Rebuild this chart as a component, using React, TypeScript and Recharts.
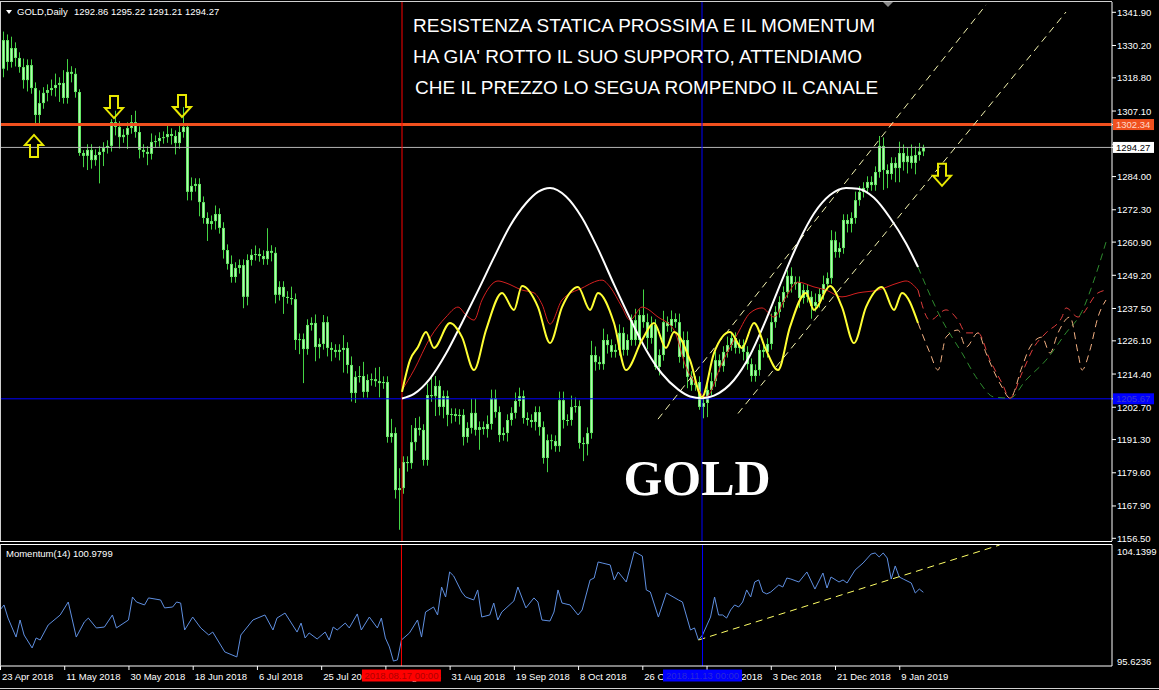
import React from 'react';
import { ComposedChart, Bar, Line, XAxis, YAxis, ReferenceLine, ReferenceDot } from 'recharts';

const FONT = '"Liberation Sans", Arial, sans-serif';
const SLOTS = 278;

// daily candles, open = previous close
const firstOpen = 1322.0;
const closes = [
  1332.1, 1324.4, 1329.3, 1325.8, 1322.6, 1318.0, 1323.3, 1315.2, 1305.7, 1309.9,
  1313.5, 1314.5, 1315.2, 1316.3, 1317.0, 1311.7, 1320.9, 1320.2, 1313.8, 1292.3,
  1291.3, 1293.4, 1289.8, 1291.6, 1292.7, 1294.1, 1294.8, 1303.2, 1301.5, 1297.9,
  1298.7, 1301.1, 1303.2, 1299.7, 1293.4, 1292.7, 1292.0, 1296.2, 1296.5, 1297.6,
  1297.9, 1299.0, 1298.3, 1295.8, 1299.7, 1301.5, 1278.6,
  1280.7, 1281.4, 1275.0, 1269.4, 1267.3, 1268.3, 1270.8, 1265.9, 1258.1, 1253.2,
  1248.6, 1251.8, 1252.8, 1241.6, 1254.6, 1256.4, 1256.7, 1256.0, 1254.9, 1257.8,
  1257.1, 1242.3, 1245.1, 1241.6, 1241.2, 1240.8, 1226.4, 1226.7, 1223.2, 1231.7,
  1232.4, 1223.9, 1225.0, 1232.7, 1223.6, 1222.9, 1222.2, 1222.9, 1223.6, 1217.6,
  1207.7, 1213.4, 1213.7, 1208.1, 1212.3, 1212.6, 1211.9, 1211.2, 1211.6, 1192.2,
  1193.6, 1173.5, 1174.2, 1183.4, 1183.0, 1190.4, 1195.4, 1194.7, 1184.1, 1207.0,
  1206.6, 1210.2, 1202.8, 1206.6, 1200.0, 1200.3, 1199.6, 1200.0, 1192.2, 1195.4,
  1200.7, 1194.7, 1195.7, 1195.0, 1196.8, 1205.9, 1201.0, 1192.9, 1193.6, 1198.2,
  1200.7, 1204.9, 1206.6, 1198.9, 1198.2, 1197.5, 1201.0, 1195.7, 1184.8, 1191.1,
  1190.8, 1189.0, 1205.2, 1198.2, 1198.2, 1202.8, 1203.1, 1190.1, 1189.7, 1193.6,
  1221.1, 1218.6, 1217.9, 1226.4, 1224.6, 1222.2, 1222.9, 1228.9, 1222.9, 1226.4,
  1233.4, 1226.4, 1235.2, 1232.7, 1227.1, 1231.7, 1216.9, 1221.1, 1232.7, 1231.3,
  1233.8, 1232.7, 1220.4, 1226.4, 1213.4, 1210.5, 1211.6, 1202.8, 1204.2, 1208.8,
  1211.9, 1219.3,
  1217.2, 1222.2, 1224.6, 1227.1, 1223.6, 1224.6, 1222.2, 1217.9, 1213.7, 1215.8,
  1222.9, 1222.2, 1225.0, 1232.7, 1236.3, 1239.8, 1243.3, 1249.0, 1246.1, 1246.8,
  1241.2, 1244.0, 1241.6, 1238.4, 1239.8, 1242.6, 1246.1, 1248.2, 1261.6, 1257.4,
  1258.8, 1268.7, 1267.3, 1269.4, 1275.7, 1278.6, 1280.0, 1282.1, 1281.0, 1285.6,
  1294.8, 1286.3, 1284.9, 1288.8, 1287.0, 1292.3, 1289.1, 1291.3, 1288.8, 1291.6,
  1292.86, 1294.27,
];
const wickUp = [
  3, 2, 4, 2, 2, 3, 2, 2, 2, 4.5, 2, 2, 3, 4, 2, 4.5, 4.5, 2, 2, 1,
  1, 2, 2, 2, 2, 2, 2, 1, 4, 2, 2, 2, 2.5, 4, 2, 2, 2, 3, 2, 2,
  2, 3, 2, 2, 3, 7, 1, 3, 2, 2, 2, 2, 2, 3, 2, 2, 2, 3, 2, 2,
  2, 2, 2, 3, 2, 2, 8, 2, 2, 2, 2, 2, 4, 2, 2, 2, 2, 2, 3, 2,
  2.5, 2, 2, 2, 2, 4.5, 2, 3, 2, 3.5, 5, 2, 2, 4, 5, 2, 2, 5, 2, 7,
  2, 2, 6, 3.5, 4, 2, 4, 7, 3.5, 2, 2, 2, 2, 2, 2, 2, 2, 5, 5, 2,
  2, 3, 3, 3, 2, 2, 2, 2, 3, 3, 2, 2, 2, 2, 2, 2, 2, 2, 2, 3,
  3, 2, 4, 3, 2, 2, 2, 5, 3, 2, 4, 2, 2, 2, 3, 2, 2, 2, 4, 2,
  9, 3, 3, 2, 2, 4, 2, 3, 2, 3, 3, 3, 2, 2, 2, 2, 2, 3, 3, 2,
  2, 3, 2, 2, 2, 2, 2, 2, 2, 2, 2, 2, 3, 2, 2, 2, 2, 3, 2, 2,
  2, 2, 2, 3, 2, 3, 2, 3.5, 3, 2, 2, 2, 2, 3, 2, 2, 2, 2, 2, 3.5,
  3, 2, 2, 2, 4, 3, 3, 4, 3, 3, 0.95,
];
const wickDn = [
  3, 3, 2, 3, 2, 3, 4, 2, 3, 3, 2, 3, 2, 3, 6, 2, 2, 3, 2, 1,
  4, 5, 3, 2, 10, 5, 2, 2, 3, 4, 2, 5, 2, 2, 3, 2, 4, 2, 2, 2,
  2, 2, 3, 4, 2, 2, 3, 3, 2, 5, 2, 6, 2, 3, 2, 3, 2, 2, 2, 2,
  4, 3, 2, 2, 2, 2, 2, 3, 3, 2, 6, 2, 2, 3.5, 5, 12, 2, 2, 5, 4,
  2, 3, 4, 2, 3, 8, 3, 3, 3.5, 2, 2, 2, 2, 2, 5, 2, 2, 2, 3, 14,
  2, 3, 2, 3, 2, 2, 2, 2, 7, 3, 4, 4, 3, 2, 3, 3, 2, 2, 2, 7,
  2, 3, 2, 2, 2.5, 2, 3, 2, 2, 2, 2, 2, 2, 3, 3, 2, 5, 3, 2, 2,
  3, 2, 2, 2, 2, 6, 4, 2, 3, 2, 2, 3, 2, 2, 2, 2, 2, 2, 2, 2,
  2, 4, 2, 1, 3, 2, 2, 2, 2, 2, 4, 4, 2, 2, 1, 4, 5, 2, 2, 2,
  2, 2, 2, 2, 2, 3, 2, 2, 2, 2, 2, 2, 2, 2, 2, 2, 2, 3, 2, 3.5,
  2, 2, 4.5, 2, 2, 2, 2, 2, 2, 2, 2, 3, 3, 2, 2, 2, 2, 2, 2, 2,
  7, 5, 2, 5, 5, 3, 4, 2, 4, 2, 1.65,
];

// cycle indicator curves [bar, price]
const whiteCycle = [
  [100, 1205.8], [103, 1207.4], [107, 1212.8], [111, 1221.6], [115, 1232.5], [119, 1243.8],
  [123, 1255.5], [127, 1266.6], [131, 1274.6], [134, 1278.6], [137, 1280.0], [141, 1277.0],
  [145, 1269.5], [149, 1258.5], [153, 1246.0], [157, 1234.0], [161, 1223.0], [165, 1214.5],
  [169, 1209.0], [172, 1206.5], [175, 1205.9], [178, 1206.8], [183, 1212.3], [187, 1221.0],
  [191, 1233.5], [195, 1247.5], [199, 1260.5], [203, 1271.0], [207, 1277.5], [211, 1280.0],
  [214, 1279.7], [218, 1276.5], [222, 1269.5], [226, 1260.5], [229, 1252.1],
];
const redCycle = [
  [100, 1208.7], [103, 1215.8], [107, 1227.1], [111, 1234.5], [114, 1238.0], [116, 1235.2],
  [118, 1233.4], [120, 1240.5], [124, 1247.2], [126, 1246.5], [130, 1244.0], [133, 1243.0],
  [135, 1239.0], [137, 1232.0], [140, 1240.5], [145, 1244.7], [150, 1247.5], [152, 1245.1],
  [155, 1238.0], [157, 1233.4], [160, 1238.0], [164, 1234.5], [168, 1229.9], [171, 1216.9],
  [174, 1209.5], [175, 1207.0], [176, 1206.3], [180, 1218.3], [184, 1228.9], [187, 1235.9],
  [190, 1237.7], [193, 1234.5], [196, 1241.6], [199, 1246.8], [203, 1245.1], [206, 1244.0],
  [210, 1241.6], [214, 1243.0], [219, 1244.0], [224, 1246.5], [226, 1247.2], [229, 1244.0],
];
const yellowCycle = [
  [100, 1208.1], [102, 1219.3], [104, 1223.9], [106, 1229.2], [108, 1223.6], [112, 1232.4],
  [115, 1227.4], [118, 1215.8], [121, 1229.9], [125, 1243.0], [128, 1237.0], [130, 1245.4],
  [134, 1238.0], [137, 1225.3], [140, 1238.0], [144, 1245.1], [147, 1237.0], [149, 1243.0],
  [153, 1232.4], [156, 1215.8], [160, 1226.4], [163, 1232.4], [166, 1223.6], [168, 1229.2],
  [172, 1219.3], [175, 1206.3], [178, 1221.8], [182, 1229.2], [185, 1223.6], [188, 1232.4],
  [191, 1222.9], [194, 1215.8], [197, 1231.0], [201, 1243.0], [203, 1237.0], [207, 1245.4],
  [210, 1238.0], [213, 1225.3], [216, 1238.0], [220, 1245.1], [223, 1237.0], [225, 1243.0],
  [229, 1232.4],
];
const greenProj = [
  [229, 1252.1], [235, 1233.4], [240, 1221.8], [244, 1212.3], [248, 1206.3], [252, 1205.9],
  [256, 1212.3], [261, 1219.3], [266, 1228.9], [270, 1236.5], [273, 1247.5], [276, 1260.9],
];
const redProj = [
  [229, 1244.0], [232, 1233.4], [236, 1237.0], [239, 1233.4], [241, 1228.9], [244, 1228.9],
  [247, 1219.3], [250, 1211.2], [252, 1205.9], [255, 1214.8], [258, 1223.9], [261, 1228.9],
  [265, 1234.5], [266, 1237.7], [269, 1234.5], [274, 1243.0], [276, 1244.0],
];
const orangeProj = [
  [229, 1232.4], [232, 1221.8], [234, 1215.8], [236, 1227.4], [239, 1229.9], [241, 1223.9],
  [244, 1228.9], [246, 1221.8], [250, 1209.8], [252, 1205.9], [255, 1216.9], [257, 1223.9],
  [260, 1227.4], [262, 1221.8], [264, 1228.9], [267, 1234.5], [269, 1221.8], [270, 1215.8],
  [272, 1222.9], [274, 1234.5], [276, 1240.5],
];

// Momentum(14)
const momentum = [
  [0, 99.6], [1, 99.99], [2, 98.97], [4, 97.49], [5, 98.82], [6, 97.65], [8, 96.64], [9, 97.42],
  [10, 97.26], [12, 98.43], [15, 99.21], [17, 100.22], [19, 97.49], [21, 98.66], [22, 98.97],
  [24, 98.2], [26, 98.27], [28, 99.21], [29, 98.2], [32, 98.82], [33, 100.61], [34, 100.22],
  [36, 99.99], [37, 100.54], [40, 100.38], [41, 99.76], [43, 99.83], [44, 100.22], [45, 100.14],
  [46, 98.04], [48, 99.05], [50, 98.2], [52, 97.65], [53, 97.88], [56, 96.33], [59, 95.94],
  [60, 97.65], [63, 98.82], [66, 99.21], [68, 98.04], [69, 98.97], [71, 99.36], [74, 97.88],
  [75, 98.58], [76, 97.42], [77, 97.81], [79, 97.34], [81, 97.88], [82, 97.26], [83, 98.27],
  [84, 98.04], [86, 98.58], [87, 98.2], [89, 99.29], [90, 98.04], [92, 99.05], [94, 98.2],
  [95, 98.97], [96, 97.42], [97, 96.72], [98, 95.62], [99, 95.71], [100, 97.26], [102, 97.81],
  [104, 98.82], [105, 97.49], [106, 99.44], [108, 99.83], [109, 99.21], [110, 101.39],
  [111, 100.61], [112, 102.56], [113, 102.25], [115, 101.0], [116, 100.61], [118, 100.38],
  [119, 101.16], [120, 99.05], [122, 99.21], [123, 100.14], [124, 98.82], [125, 99.44],
  [128, 100.3], [129, 101.39], [131, 99.76], [133, 100.54], [134, 100.22], [135, 98.82],
  [137, 98.74], [138, 99.44], [139, 101.16], [140, 100.14], [142, 99.99], [144, 99.21],
  [145, 99.6], [147, 101.94], [148, 102.09], [149, 103.34], [150, 103.26], [152, 103.11],
  [153, 101.94], [154, 102.56], [156, 101.78], [158, 104.14], [160, 103.8], [161, 101.16],
  [162, 101.0], [164, 99.05], [166, 100.92], [169, 100.38], [170, 100.22], [172, 98.04],
  [173, 98.2], [174, 97.26], [175, 97.65], [177, 99.05], [178, 100.61], [179, 99.21],
  [180, 99.21], [181, 98.97], [182, 99.6], [183, 99.99], [184, 99.83], [185, 100.22],
  [186, 101.16], [187, 100.61], [188, 101.78], [189, 101.94], [190, 101.0], [191, 100.85],
  [192, 101.0], [194, 101.55], [195, 101.39], [196, 102.09], [197, 102.01], [199, 101.78],
  [201, 102.56], [203, 101.23], [205, 102.48], [206, 101.31], [207, 102.17], [209, 101.78],
  [210, 101.94], [211, 101.7], [213, 102.71], [215, 103.26], [217, 103.96], [218, 104.04],
  [219, 103.73], [220, 104.04], [221, 103.65], [222, 102.01], [223, 103.03], [224, 102.17],
  [225, 102.01], [227, 101.7], [228, 100.92], [229, 101.23], [230, 100.98],
];

const priceTicks = [1341.9, 1330.2, 1318.8, 1307.1, 1295.4, 1284.0, 1272.3, 1260.9, 1249.2,
  1237.5, 1226.1, 1214.4, 1202.7, 1191.3, 1179.6, 1167.9, 1156.5];
const momTicks = [104.1399, 95.6236];
const dateTicks = [0, 16, 32, 48, 64, 80, 96, 112, 128, 144, 160, 176, 192, 208, 224];
const dateLabels = ['23 Apr 2018', '11 May 2018', '30 May 2018', '18 Jun 2018', '6 Jul 2018',
  '25 Jul 2018', '13 Aug 2018', '31 Aug 2018', '19 Sep 2018', '8 Oct 2018', '26 Oct 2018',
  '14 Nov 2018', '3 Dec 2018', '21 Dec 2018', '9 Jan 2019'];

const resistance = 1302.34;
const bid = 1294.27;
const support = 1205.67;
const redBar = 100;
const blueBar = 175;
const redBarLabel = '2018.08.17 00:00';
const blueBarLabel = '2018.11.13 00:00';
const channelUpper = [[164, 1198.5], [246, 1344.5]];
const channelLower = [[184, 1200.5], [266, 1342.0]];
const momTrend = [[174, 97.26], [249, 104.66]];
const arrowBars = [8, 28, 45, 235];
const arrowPrices = [1294.8, 1308.5, 1308.9, 1284.6];
const arrowUp = [true, false, false, false];

// price tags drawn last on the price axis
const priceTags: Record<string, { bg: string; fg: string }> = {
  [String(support)]: { bg: '#0000ff', fg: '#3a3ad0' },
  [String(bid)]: { bg: '#ffffff', fg: '#000000' },
  [String(resistance)]: { bg: '#f0501e', fg: '#ffd8c8' },
};
const dateTags: Record<string, { text: string; bg: string; fg: string }> = {
  [String(redBar)]: { text: redBarLabel, bg: '#ff0000', fg: '#b00000' },
  [String(blueBar)]: { text: blueBarLabel, bg: '#0000ff', fg: '#2a2ad8' },
};

const rows: any[] = Array.from({ length: SLOTS }, (_, i) => ({ i }));
closes.forEach((c, i) => {
  const o = i === 0 ? firstOpen : closes[i - 1];
  const r = rows[i];
  r.open = o;
  r.close = c;
  r.high = Math.max(o, c) + wickUp[i];
  r.low = Math.min(o, c) - wickDn[i];
  r.range = [r.low, r.high];
});
const put = (key: string, pts: number[][]) => pts.forEach(([i, v]) => { rows[i][key] = v; });
put('white', whiteCycle);
put('red', redCycle);
put('yellow', yellowCycle);
put('gp', greenProj);
put('rp', redProj);
put('op', orangeProj);
put('mom', momentum);

const Candle = (props: any) => {
  const { x, y, width, height, payload } = props;
  if (!payload || payload.high == null) return null;
  const { open, close, high, low } = payload;
  const top = Math.min(y, y + height);
  const h = Math.abs(height);
  const k = high === low ? 0 : h / (high - low);
  const yo = top + (high - open) * k;
  const yc = top + (high - close) * k;
  const cx = Math.round(x + width / 2);
  const bTop = Math.min(yo, yc);
  const bH = Math.max(1, Math.abs(yo - yc));
  return (
    <g>
      <line x1={cx + 0.5} x2={cx + 0.5} y1={top} y2={top + h} stroke="#44d444" strokeWidth={1} />
      <rect x={cx - 1} y={bTop} width={3} height={bH} fill="#66e866" />
      {bH > 3 && <line x1={cx + 0.5} x2={cx + 0.5} y1={bTop + 1} y2={bTop + bH - 1} stroke="#b4f7b4" />}
    </g>
  );
};

const PriceTick = (p: any) => {
  const v = p.payload.value;
  const tag = priceTags[String(v)];
  if (tag) {
    return (
      <g>
        <rect x={p.x - 4} y={p.y - 5.5} width={41} height={11} fill={tag.bg} />
        <text x={p.x - 1} y={p.y} dy={3.5} fill={tag.fg} fontSize={9.5} fontFamily={FONT}>
          {Number(v).toFixed(2)}
        </text>
      </g>
    );
  }
  return (
    <text x={p.x} y={p.y} dy={3.5} fill="#fff" fontSize={9.5} fontFamily={FONT}>
      {Number(v).toFixed(2)}
    </text>
  );
};
const MomTick = (p: any) => (
  <text x={p.x} y={p.y} dy={3.5} fill="#fff" fontSize={9.5} fontFamily={FONT}>
    {Number(p.payload.value).toFixed(4)}
  </text>
);
const DateTick = (p: any) => {
  const v = Number(p.payload.value);
  const tag = dateTags[String(v)];
  if (tag) {
    return (
      <g>
        <rect x={p.x - 39.5} y={p.y + 3.5} width={79} height={12} fill={tag.bg} />
        <text x={p.x} y={p.y + 13} textAnchor="middle" fontSize={9.5} fontFamily={FONT} fill={tag.fg}>{tag.text}</text>
      </g>
    );
  }
  const idx = dateTicks.indexOf(v);
  return (
    <g>
      <line x1={p.x + 0.5} x2={p.x + 0.5} y1={p.y} y2={p.y + 4} stroke="#fff" />
      <text x={p.x + 2} y={p.y + 14} fill="#fff" fontSize={9.5} fontFamily={FONT}>
        {idx >= 0 ? dateLabels[idx] : ''}
      </text>
    </g>
  );
};

const Arrow = ({ cx, cy, up }: any) => {
  const s = up ? -1 : 1;
  const pts = [[-4, -11], [4, -11], [4, 1], [9, 1], [0, 11], [-9, 1], [-4, 1]]
    .map(([dx, dy]) => `${cx + dx},${cy + s * dy}`).join(' ');
  return <polygon points={pts} fill="none" stroke="#e8e800" strokeWidth={2} />;
};

const seg = (pts: number[][]) => pts.map(([x, y]) => ({ x, y }));

export default function App() {
  return (
    <div style={{ position: 'absolute', left: 0, top: 0, width: 1159, height: 690, background: '#000', overflow: 'hidden' }}>
      <div style={{ position: 'absolute', left: 0, top: 0 }}>
        <ComposedChart width={1159} height={542} data={rows} margin={{ top: 2, right: 0, bottom: 1, left: 0 }}>
          <XAxis dataKey="i" type="category" hide />
          <YAxis
            orientation="right"
            width={47}
            domain={[1155.55, 1345.53]}
            allowDataOverflow
            ticks={[...priceTicks, support, bid, resistance]}
            interval={0}
            tick={<PriceTick />}
            tickSize={4}
            tickMargin={1}
            tickLine={{ stroke: '#fff' }}
            axisLine={{ stroke: '#fff' }}
          />
          <Bar dataKey="range" barSize={3} shape={(p: any) => <Candle {...p} />} isAnimationActive={false} />
          <ReferenceLine y={bid} stroke="#b4b4b4" strokeWidth={1} />
          <ReferenceLine y={support} stroke="#0000ff" strokeWidth={1} />
          <ReferenceLine y={resistance} stroke="#f0501e" strokeWidth={3} />
          <ReferenceLine x={redBar} stroke="#ff0000" strokeWidth={1} />
          <ReferenceLine x={blueBar} stroke="#0000ff" strokeWidth={1} />
          <ReferenceLine segment={seg(channelUpper)} stroke="#f4f4b0" strokeDasharray="7 5" />
          <ReferenceLine segment={seg(channelLower)} stroke="#f4f4b0" strokeDasharray="7 5" />
          <Line dataKey="red" stroke="#d42020" strokeWidth={1} dot={false} connectNulls type="monotone" isAnimationActive={false} />
          <Line dataKey="white" stroke="#ffffff" strokeWidth={2} dot={false} connectNulls type="monotone" isAnimationActive={false} />
          <Line dataKey="yellow" stroke="#ffff33" strokeWidth={2} dot={false} connectNulls type="monotone" isAnimationActive={false} />
          <Line dataKey="gp" stroke="#2e8b2e" strokeWidth={1} strokeDasharray="7 5" dot={false} connectNulls type="monotone" isAnimationActive={false} />
          <Line dataKey="rp" stroke="#e03c3c" strokeWidth={1} strokeDasharray="7 5" dot={false} connectNulls type="monotone" isAnimationActive={false} />
          <Line dataKey="op" stroke="#f4b183" strokeWidth={1} strokeDasharray="7 5" dot={false} connectNulls type="monotone" isAnimationActive={false} />
          {arrowBars.map((b, k) => (
            <ReferenceDot key={k} x={b} y={arrowPrices[k]} r={1}
              shape={(p: any) => <Arrow cx={p.cx} cy={p.cy} up={arrowUp[k]} />} />
          ))}
        </ComposedChart>
      </div>
      <div style={{ position: 'absolute', left: 0, top: 541 }}>
        <ComposedChart width={1159} height={149} data={rows} margin={{ top: 3.5, right: 0, bottom: 2, left: 0 }}>
          <XAxis
            dataKey="i"
            type="category"
            ticks={[...dateTicks, redBar, blueBar]}
            interval={0}
            height={22}
            tick={<DateTick />}
            tickSize={0}
            tickMargin={0}
            tickLine={false}
            axisLine={{ stroke: '#fff' }}
          />
          <YAxis
            orientation="right"
            width={47}
            domain={[95.235, 104.701]}
            allowDataOverflow
            ticks={momTicks}
            interval={0}
            tick={<MomTick />}
            tickSize={4}
            tickMargin={1}
            tickLine={false}
            axisLine={{ stroke: '#fff' }}
          />
          <Line dataKey="mom" stroke="#5f8fe0" strokeWidth={1} dot={false} connectNulls type="linear" isAnimationActive={false} />
          <ReferenceLine segment={seg(momTrend)} stroke="#ffff66" strokeDasharray="7 5" />
          <ReferenceLine x={redBar} stroke="#ff0000" />
          <ReferenceLine x={blueBar} stroke="#0000ff" />
        </ComposedChart>
      </div>
      <svg width={1159} height={690} style={{ position: 'absolute', left: 0, top: 0, pointerEvents: 'none' }}>
        <line x1={0} x2={1112} y1={1.5} y2={1.5} stroke="#d0d0d0" />
        <polygon points="883,2 893,2 888,7" fill="#8a8a8a" />
        <line x1={0.5} x2={0.5} y1={2} y2={541} stroke="#d0d0d0" />
        <line x1={0} x2={1112} y1={541.5} y2={541.5} stroke="#ffffff" />
        <line x1={0} x2={1112} y1={544.5} y2={544.5} stroke="#ffffff" />
        <line x1={0.5} x2={0.5} y1={544} y2={666} stroke="#d0d0d0" />
        <line x1={0} x2={1159} y1={688.5} y2={688.5} stroke="#d0d0d0" />
        <polygon points="6,10 12,10 9,14" fill="#fff" />
        <text x={17} y={15} fill="#fff" fontSize={9.5} fontFamily={FONT}>GOLD,Daily</text>
        <text x={74} y={15} fill="#fff" fontSize={9.5} fontFamily={FONT}>1292.86 1295.22 1291.21 1294.27</text>
        <text x={413} y={32} fill="#fff" fontSize={19} fontFamily={FONT}>RESISTENZA STATICA PROSSIMA E IL MOMENTUM</text>
        <text x={413} y={63} fill="#fff" fontSize={19} fontFamily={FONT}>HA GIA' ROTTO IL SUO SUPPORTO, ATTENDIAMO</text>
        <text x={415} y={94} fill="#fff" fontSize={19} fontFamily={FONT}>CHE IL PREZZO LO SEGUA ROMPENDO IL CANALE</text>
        <text x={697} y={495} fill="#fff" fontSize={50} fontWeight="bold" textAnchor="middle"
          fontFamily='"Liberation Serif", "Times New Roman", serif'>GOLD</text>
        <text x={6} y={557} fill="#fff" fontSize={9.5} fontFamily={FONT}>Momentum(14) 100.9799</text>
      </svg>
    </div>
  );
}
